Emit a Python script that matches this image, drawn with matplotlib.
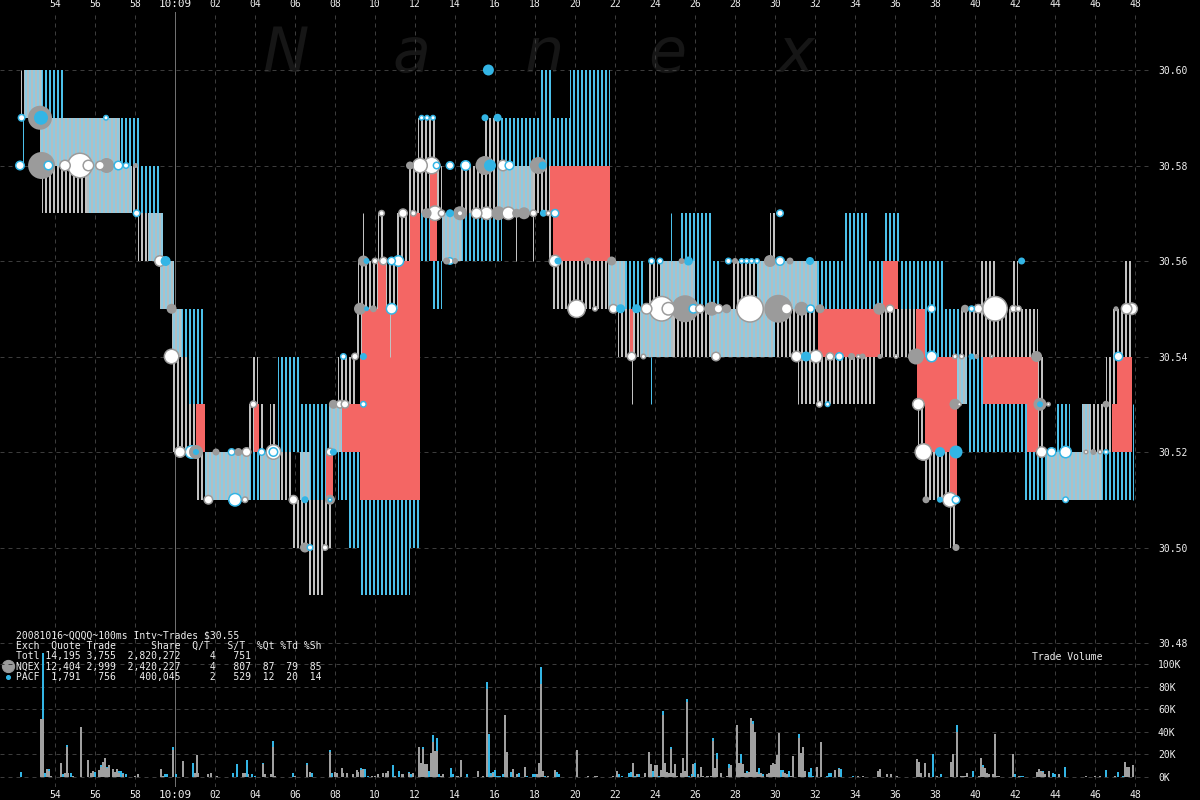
import matplotlib
matplotlib.use('Agg')
import matplotlib.pyplot as plt

plt.rcParams['font.family'] = 'DejaVu Sans Mono'
plt.rcParams['hatch.linewidth'] = 2.0

# time = seconds after 10:08:00, price in $, volume in thousands of shares
tick_secs = list(range(54, 109, 2))
tick_labels = ['54', '56', '58', '10:09'] + ['%02d' % (s - 60) for s in range(62, 109, 2)]
price_ticks = [30.48, 30.50, 30.52, 30.54, 30.56, 30.58, 30.60]
vol_ticks = [0, 20, 40, 60, 80, 100]

# quote bands: (t start, t end, low, high, kind)  g = NQEX only, c = PACF only, l = both
bands = [
    (52.45, 53.33, 30.59, 30.60, 'l'), (53.33, 54.50, 30.59, 30.60, 'c'),
    (53.25, 57.25, 30.58, 30.59, 'l'), (57.25, 58.25, 30.58, 30.59, 'c'),
    (53.33, 55.58, 30.57, 30.58, 'g'), (55.58, 57.83, 30.57, 30.58, 'l'),
    (57.83, 58.17, 30.57, 30.58, 'g'), (58.17, 59.25, 30.57, 30.58, 'c'),
    (58.17, 58.67, 30.56, 30.57, 'g'), (58.67, 59.42, 30.56, 30.57, 'l'),
    (59.25, 59.95, 30.55, 30.56, 'l'), (59.83, 60.33, 30.54, 30.55, 'l'),
    (60.33, 61.42, 30.54, 30.55, 'c'), (59.92, 60.58, 30.52, 30.54, 'g'),
    (60.58, 61.50, 30.53, 30.54, 'c'), (60.58, 61.05, 30.52, 30.53, 'g'),
    (61.05, 61.50, 30.51, 30.52, 'g'), (61.50, 63.75, 30.51, 30.52, 'l'),
    (63.75, 64.25, 30.51, 30.52, 'c'), (64.25, 65.25, 30.51, 30.52, 'l'),
    (65.25, 65.92, 30.51, 30.52, 'g'), (63.83, 64.17, 30.53, 30.54, 'g'),
    (63.60, 63.95, 30.52, 30.53, 'g'), (64.25, 64.42, 30.52, 30.53, 'g'),
    (64.75, 65.00, 30.52, 30.53, 'g'), (65.17, 66.25, 30.52, 30.54, 'c'),
    (65.83, 66.25, 30.50, 30.51, 'g'),
    (66.25, 67.70, 30.52, 30.53, 'c'), (67.70, 68.33, 30.52, 30.53, 'l'),
    (66.25, 66.75, 30.51, 30.52, 'l'), (66.75, 67.55, 30.51, 30.52, 'c'),
    (68.17, 69.25, 30.51, 30.52, 'c'), (66.25, 67.83, 30.50, 30.51, 'g'),
    (68.67, 72.25, 30.50, 30.51, 'c'), (66.67, 67.50, 30.49, 30.50, 'g'),
    (69.25, 71.75, 30.49, 30.50, 'c'), (68.17, 69.08, 30.53, 30.54, 'g'),
    (69.08, 69.33, 30.54, 30.55, 'g'), (69.17, 70.17, 30.55, 30.56, 'g'),
    (70.17, 70.50, 30.56, 30.57, 'g'), (70.55, 71.17, 30.55, 30.56, 'g'),
    (71.08, 71.75, 30.56, 30.57, 'g'), (71.67, 72.75, 30.57, 30.58, 'g'),
    (72.17, 73.08, 30.58, 30.59, 'g'), (72.25, 72.75, 30.56, 30.57, 'c'),
    (72.83, 73.33, 30.55, 30.56, 'c'), (73.08, 73.33, 30.57, 30.58, 'g'),
    (73.33, 74.33, 30.56, 30.57, 'l'), (74.33, 76.33, 30.56, 30.57, 'c'),
    (74.25, 76.25, 30.57, 30.58, 'g'), (75.50, 76.25, 30.58, 30.59, 'g'),
    (76.17, 77.92, 30.57, 30.58, 'l'), (76.25, 78.92, 30.58, 30.59, 'c'),
    (78.25, 78.92, 30.59, 30.60, 'c'), (79.75, 81.75, 30.59, 30.60, 'c'),
    (78.92, 81.75, 30.58, 30.59, 'c'), (77.92, 78.75, 30.57, 30.58, 'g'),
    (78.67, 78.92, 30.56, 30.57, 'g'), (78.92, 81.67, 30.55, 30.56, 'g'),
    (81.67, 82.50, 30.55, 30.56, 'l'), (82.50, 83.42, 30.55, 30.56, 'c'),
    (83.67, 84.17, 30.55, 30.56, 'g'), (84.25, 86.00, 30.55, 30.56, 'l'),
    (86.00, 87.25, 30.55, 30.56, 'c'), (87.92, 89.08, 30.55, 30.56, 'g'),
    (89.08, 92.08, 30.55, 30.56, 'l'), (92.08, 95.42, 30.55, 30.56, 'c'),
    (82.17, 82.75, 30.54, 30.55, 'g'), (82.92, 83.25, 30.54, 30.55, 'g'),
    (83.25, 84.92, 30.54, 30.55, 'l'), (84.92, 86.75, 30.54, 30.55, 'g'),
    (86.75, 90.00, 30.54, 30.55, 'l'), (90.00, 91.17, 30.54, 30.55, 'g'),
    (91.17, 92.08, 30.53, 30.55, 'g'), (92.08, 95.08, 30.53, 30.54, 'g'),
    (95.25, 96.25, 30.54, 30.55, 'g'), (85.25, 86.83, 30.56, 30.57, 'c'),
    (89.75, 90.08, 30.56, 30.57, 'g'), (93.50, 94.67, 30.56, 30.57, 'c'),
    (95.50, 96.25, 30.56, 30.57, 'c'),
    (96.25, 98.50, 30.55, 30.56, 'c'), (100.25, 101.08, 30.55, 30.56, 'g'),
    (101.83, 102.17, 30.55, 30.56, 'g'), (107.42, 107.92, 30.55, 30.56, 'g'),
    (96.25, 97.05, 30.54, 30.55, 'g'), (97.50, 99.25, 30.54, 30.55, 'c'),
    (99.25, 103.17, 30.54, 30.55, 'g'), (106.92, 107.92, 30.54, 30.55, 'g'),
    (99.08, 99.58, 30.53, 30.54, 'l'), (99.58, 100.42, 30.53, 30.54, 'c'),
    (103.17, 103.50, 30.52, 30.54, 'g'), (106.55, 107.08, 30.53, 30.54, 'g'),
    (97.17, 97.50, 30.52, 30.53, 'g'), (99.58, 102.58, 30.52, 30.53, 'c'),
    (104.08, 104.75, 30.52, 30.53, 'c'), (105.33, 105.75, 30.52, 30.53, 'l'),
    (105.75, 106.83, 30.52, 30.53, 'g'), (97.42, 98.75, 30.51, 30.52, 'g'),
    (102.50, 103.58, 30.51, 30.52, 'c'), (103.58, 106.33, 30.51, 30.52, 'l'),
    (106.33, 107.92, 30.51, 30.52, 'c'), (98.75, 99.12, 30.50, 30.51, 'g'),
]

# crossed / locked quote blocks (red)
red_blocks = [
    (61.05, 61.50, 30.52, 30.53), (63.95, 64.22, 30.52, 30.53),
    (67.55, 67.88, 30.51, 30.52), (68.33, 69.25, 30.52, 30.53),
    (69.25, 70.17, 30.51, 30.55), (70.17, 70.55, 30.51, 30.56),
    (70.55, 71.17, 30.51, 30.55), (71.17, 71.75, 30.51, 30.56),
    (71.75, 72.25, 30.51, 30.57), (72.75, 73.08, 30.56, 30.58),
    (78.75, 81.75, 30.56, 30.58), (82.75, 82.92, 30.54, 30.55),
    (92.17, 95.25, 30.54, 30.55), (95.42, 96.17, 30.55, 30.56),
    (97.05, 97.50, 30.54, 30.55), (97.08, 99.08, 30.53, 30.54),
    (97.50, 99.08, 30.52, 30.53), (98.75, 99.12, 30.51, 30.52),
    (100.42, 103.17, 30.53, 30.54), (102.58, 103.42, 30.52, 30.53),
    (107.08, 107.83, 30.53, 30.54), (106.83, 107.83, 30.52, 30.53),
]

# single-interval quote lines: (t, low, high, kind)
spikes = [
    (52.30, 30.59, 30.60, 'g'), (52.40, 30.58, 30.59, 'c'),
    (69.38, 30.56, 30.57, 'g'), (70.75, 30.54, 30.56, 'g'),
    (77.05, 30.56, 30.57, 'g'), (77.88, 30.56, 30.57, 'g'),
    (82.83, 30.53, 30.54, 'g'), (83.80, 30.53, 30.54, 'c'),
    (84.80, 30.56, 30.57, 'c'), (91.17, 30.53, 30.54, 'g'),
    (107.92, 30.51, 30.53, 'c'),
]

# trades: (t, price, marker diameter px, style)
trades = [
    (52.33, 30.59, 8, 'wc'), (53.25, 30.59, 24, 'g'), (53.30, 30.59, 14, 'c'),
    (56.55, 30.59, 6, 'wc'), (52.25, 30.58, 10, 'wc'), (53.33, 30.58, 27, 'g'),
    (53.67, 30.58, 10, 'wc'), (54.50, 30.58, 12, 'w'), (55.25, 30.58, 26, 'w'),
    (55.67, 30.58, 12, 'w'), (56.25, 30.58, 10, 'w'), (56.58, 30.58, 15, 'g'),
    (57.17, 30.58, 10, 'wc'), (57.55, 30.58, 7, 'wc'), (58.03, 30.58, 5, 'g'),
    (58.08, 30.57, 8, 'wc'), (59.25, 30.56, 12, 'w'), (59.53, 30.56, 10, 'c'),
    (59.83, 30.55, 10, 'g'), (59.83, 30.54, 16, 'w'), (60.25, 30.52, 12, 'w'),
    (60.83, 30.52, 14, 'wc'), (61.05, 30.52, 14, 'g'), (61.05, 30.52, 6, 'c'),
    (62.05, 30.52, 7, 'g'), (62.83, 30.52, 8, 'wc'), (63.17, 30.52, 8, 'g'),
    (63.58, 30.52, 10, 'w'), (63.92, 30.53, 8, 'w'), (64.33, 30.52, 8, 'wc'),
    (64.92, 30.52, 16, 'w'), (64.92, 30.52, 10, 'wc'), (61.67, 30.51, 10, 'w'),
    (63.00, 30.51, 14, 'wc'), (63.50, 30.51, 7, 'w'), (65.92, 30.51, 10, 'w'),
    (75.67, 30.60, 11, 'c'), (72.33, 30.59, 6, 'wc'), (72.60, 30.59, 6, 'wc'),
    (72.90, 30.59, 6, 'wc'), (75.50, 30.59, 7, 'c'), (76.13, 30.59, 8, 'c'),
    (71.75, 30.58, 8, 'g'), (72.25, 30.58, 16, 'w'), (72.83, 30.58, 18, 'w'),
    (73.08, 30.58, 8, 'wc'), (73.75, 30.58, 9, 'wc'), (74.53, 30.58, 11, 'wc'),
    (75.50, 30.58, 19, 'g'), (75.75, 30.58, 12, 'c'), (76.40, 30.58, 12, 'w'),
    (76.72, 30.58, 10, 'wc'), (78.17, 30.58, 17, 'g'), (78.38, 30.58, 8, 'c'),
    (70.33, 30.57, 7, 'w'), (71.40, 30.57, 10, 'w'), (71.92, 30.57, 7, 'w'),
    (72.58, 30.57, 10, 'g'), (73.00, 30.57, 16, 'w'), (73.33, 30.57, 8, 'w'),
    (73.75, 30.57, 8, 'c'), (74.25, 30.57, 14, 'g'), (74.25, 30.57, 7, 'w'),
    (75.08, 30.57, 12, 'w'), (75.58, 30.57, 14, 'w'), (76.17, 30.57, 14, 'g'),
    (76.67, 30.57, 14, 'w'), (77.08, 30.57, 9, 'g'), (77.45, 30.57, 12, 'g'),
    (77.92, 30.57, 8, 'w'), (78.42, 30.57, 7, 'c'), (78.67, 30.57, 6, 'w'),
    (79.00, 30.57, 9, 'wc'), (69.42, 30.56, 11, 'g'), (69.58, 30.56, 6, 'c'),
    (70.00, 30.56, 7, 'w'), (70.42, 30.56, 9, 'w'), (70.83, 30.56, 9, 'wc'),
    (71.17, 30.56, 12, 'wc'), (73.58, 30.56, 7, 'g'), (73.75, 30.56, 8, 'wc'),
    (74.00, 30.56, 6, 'g'), (79.00, 30.56, 13, 'w'), (79.15, 30.56, 7, 'c'),
    (80.62, 30.56, 7, 'g'), (69.25, 30.55, 12, 'g'), (69.58, 30.55, 5, 'c'),
    (69.92, 30.55, 7, 'g'), (70.83, 30.55, 12, 'wc'), (80.08, 30.55, 19, 'w'),
    (81.00, 30.55, 6, 'w'), (68.42, 30.54, 7, 'wc'), (69.00, 30.54, 8, 'w'),
    (69.42, 30.54, 7, 'c'), (67.92, 30.53, 9, 'g'), (68.25, 30.53, 9, 'w'),
    (68.50, 30.53, 9, 'w'), (69.42, 30.53, 7, 'wc'), (67.75, 30.52, 9, 'w'),
    (67.92, 30.52, 7, 'c'), (66.50, 30.51, 7, 'c'), (67.75, 30.51, 10, 'g'),
    (67.75, 30.51, 5, 'wc'), (66.50, 30.50, 10, 'g'), (66.75, 30.50, 7, 'wc'),
    (67.50, 30.50, 7, 'w'),
    (90.25, 30.57, 8, 'wc'), (81.83, 30.56, 9, 'g'), (83.83, 30.56, 7, 'wc'),
    (84.25, 30.56, 7, 'wc'), (85.33, 30.56, 6, 'g'), (85.67, 30.56, 9, 'c'),
    (87.67, 30.56, 7, 'wc'), (88.00, 30.56, 6, 'g'), (88.33, 30.56, 6, 'wc'),
    (88.58, 30.56, 6, 'wc'), (88.83, 30.56, 6, 'wc'), (89.10, 30.56, 6, 'wc'),
    (89.75, 30.56, 12, 'g'), (90.25, 30.56, 10, 'wc'), (90.75, 30.56, 7, 'g'),
    (91.75, 30.56, 8, 'c'), (81.92, 30.55, 10, 'w'), (82.28, 30.55, 9, 'c'),
    (83.08, 30.55, 9, 'c'), (83.58, 30.55, 12, 'w'), (84.33, 30.55, 26, 'w'),
    (84.67, 30.55, 14, 'w'), (85.50, 30.55, 27, 'g'), (85.92, 30.55, 10, 'wc'),
    (86.25, 30.55, 10, 'w'), (86.83, 30.55, 14, 'g'), (87.17, 30.55, 10, 'w'),
    (87.58, 30.55, 9, 'g'), (88.75, 30.55, 28, 'w'), (90.17, 30.55, 28, 'g'),
    (90.58, 30.55, 12, 'w'), (91.33, 30.55, 14, 'g'), (91.78, 30.55, 9, 'wc'),
    (92.25, 30.55, 9, 'g'), (95.22, 30.55, 12, 'g'), (95.75, 30.55, 9, 'w'),
    (82.83, 30.54, 10, 'w'), (83.42, 30.54, 6, 'w'), (87.05, 30.54, 10, 'w'),
    (91.08, 30.54, 12, 'w'), (91.55, 30.54, 10, 'c'), (92.05, 30.54, 14, 'w'),
    (92.75, 30.54, 9, 'w'), (93.22, 30.54, 9, 'wc'), (93.83, 30.54, 7, 'g'),
    (94.17, 30.54, 5, 'w'), (94.38, 30.54, 6, 'g'), (95.25, 30.54, 5, 'g'),
    (96.05, 30.54, 5, 'w'), (92.22, 30.53, 7, 'w'), (92.63, 30.53, 6, 'wc'),
    (102.33, 30.56, 7, 'c'), (97.83, 30.55, 9, 'wc'), (99.50, 30.55, 8, 'g'),
    (99.83, 30.55, 7, 'wc'), (100.17, 30.55, 10, 'w'), (101.00, 30.55, 26, 'w'),
    (101.92, 30.55, 8, 'w'), (102.17, 30.55, 7, 'w'), (107.05, 30.55, 5, 'g'),
    (107.58, 30.55, 12, 'w'), (107.83, 30.55, 13, 'w'), (97.05, 30.54, 16, 'g'),
    (97.83, 30.54, 12, 'wc'), (99.00, 30.54, 6, 'w'), (99.33, 30.54, 6, 'w'),
    (99.83, 30.54, 6, 'c'), (100.08, 30.54, 5, 'g'), (100.83, 30.54, 4, 'w'),
    (103.08, 30.54, 11, 'g'), (107.17, 30.54, 10, 'wc'), (97.17, 30.53, 13, 'w'),
    (99.00, 30.53, 11, 'g'), (99.22, 30.53, 5, 'w'), (103.25, 30.53, 13, 'g'),
    (103.25, 30.53, 6, 'c'), (103.67, 30.53, 5, 'w'), (106.55, 30.53, 7, 'g'),
    (97.42, 30.52, 18, 'w'), (98.25, 30.52, 10, 'c'), (99.05, 30.52, 13, 'c'),
    (103.33, 30.52, 12, 'w'), (103.83, 30.52, 10, 'wc'), (104.53, 30.52, 13, 'wc'),
    (105.55, 30.52, 5, 'w'), (105.92, 30.52, 6, 'g'), (106.25, 30.52, 5, 'w'),
    (106.55, 30.52, 6, 'wc'), (97.55, 30.51, 7, 'g'), (98.25, 30.51, 6, 'c'),
    (98.75, 30.51, 16, 'w'), (99.05, 30.51, 9, 'wc'), (104.53, 30.51, 7, 'wc'),
    (99.05, 30.50, 7, 'g'),
]

# trade volume per 100ms interval: (t, NQEX K shares, PACF K shares)
volume = [
    (52.28, 0, 4), (53.28, 51, 0), (53.38, 51, 59), (53.50, 0, 3), (53.58, 7, 0),
    (53.68, 5, 2), (53.78, 1, 0), (54.28, 12, 0), (54.38, 0, 2), (54.50, 3, 0),
    (54.58, 26, 2), (54.67, 3, 0), (54.78, 0, 3), (54.88, 1, 0), (55.28, 44, 0),
    (55.67, 15, 0), (55.78, 3, 0), (55.92, 5, 0), (56.00, 0, 4), (56.20, 6, 0),
    (56.28, 9, 1), (56.38, 13, 0), (56.50, 17, 0), (56.58, 8, 1), (56.68, 10, 0),
    (56.92, 7, 0), (57.00, 4, 0), (57.08, 7, 0), (57.22, 3, 2), (57.28, 0, 5),
    (57.42, 2, 1), (57.55, 0, 2), (58.00, 1, 0), (58.17, 2, 0), (59.28, 7, 0),
    (59.42, 1, 0), (59.50, 0, 2), (59.58, 0, 2), (59.92, 24, 2), (60.05, 0, 2),
    (60.38, 14, 0), (60.88, 0, 12), (61.00, 3, 0), (61.08, 19, 0), (61.17, 3, 0),
    (61.67, 2, 0), (61.78, 3, 0), (62.08, 1, 0), (62.88, 0, 3), (63.08, 0, 11),
    (63.38, 3, 0), (63.50, 3, 0), (63.58, 0, 15), (63.67, 2, 0), (63.83, 0, 2),
    (64.00, 0, 1), (64.38, 11, 1), (64.50, 2, 0), (64.78, 2, 0), (64.92, 26, 6),
    (65.00, 1, 0), (65.92, 0, 3), (66.00, 1, 0), (66.58, 10, 2), (66.75, 4, 0),
    (66.83, 0, 3), (67.75, 22, 2), (67.83, 0, 3), (68.00, 4, 0), (68.12, 3, 0),
    (68.33, 8, 0), (68.42, 3, 0), (68.58, 3, 0), (68.92, 2, 0), (69.08, 6, 0),
    (69.17, 4, 0), (69.28, 6, 2), (69.42, 7, 0), (69.52, 0, 7), (69.67, 0, 1),
    (69.83, 1, 0), (70.00, 1, 0), (70.17, 2, 0), (70.42, 3, 0), (70.55, 3, 0),
    (70.67, 5, 0), (70.88, 0, 10), (71.00, 1, 0), (71.20, 0, 5), (71.33, 2, 0),
    (71.42, 2, 0), (71.70, 3, 1), (71.80, 0, 2), (71.88, 3, 0), (72.20, 26, 0),
    (72.28, 12, 0), (72.38, 25, 1), (72.48, 11, 0), (72.58, 11, 0), (72.68, 0, 5),
    (72.78, 21, 0), (72.88, 31, 6), (72.98, 23, 0), (73.08, 23, 11), (73.18, 0, 2),
    (73.28, 1, 0), (73.38, 2, 0), (73.78, 0, 8), (73.88, 0, 2), (74.08, 1, 0),
    (74.17, 1, 0), (74.28, 15, 0), (74.58, 0, 2), (75.17, 5, 0), (75.38, 1, 0),
    (75.58, 78, 6), (75.68, 0, 38), (75.78, 1, 2), (75.88, 3, 1), (75.98, 0, 6),
    (76.08, 0, 1), (76.17, 0, 1), (76.25, 0, 1), (76.38, 0, 2), (76.48, 55, 0),
    (76.58, 22, 0), (76.78, 0, 4), (76.88, 7, 0), (77.08, 2, 0), (77.18, 0, 3),
    (77.48, 9, 0), (77.58, 0, 1), (77.88, 0, 2), (77.98, 0, 2), (78.08, 2, 0),
    (78.20, 12, 0), (78.30, 82, 15), (78.38, 5, 0), (78.50, 0, 1), (78.67, 1, 0),
    (79.00, 6, 0), (79.08, 0, 4), (79.20, 0, 2), (80.08, 24, 0), (80.67, 1, 0),
    (81.00, 1, 0), (81.08, 1, 0), (81.88, 1, 0), (82.08, 5, 0), (82.22, 0, 2),
    (82.33, 0, 1), (82.68, 0, 3), (82.78, 0, 4), (82.88, 12, 0), (83.00, 0, 1),
    (83.08, 2, 0), (83.18, 0, 2), (83.50, 3, 0), (83.68, 22, 0), (83.78, 11, 0),
    (83.88, 0, 5), (83.98, 10, 0), (84.08, 10, 0), (84.18, 0, 1), (84.28, 6, 0),
    (84.38, 55, 3), (84.48, 12, 0), (84.58, 4, 0), (84.70, 3, 0), (84.80, 25, 1),
    (84.90, 3, 0), (85.00, 11, 0), (85.12, 1, 0), (85.28, 3, 0), (85.38, 17, 0),
    (85.48, 5, 0), (85.58, 66, 3), (85.68, 0, 1),
    (85.83, 1, 1), (85.92, 11, 0), (86.00, 0, 12), (86.17, 2, 0), (86.30, 9, 0),
    (86.42, 1, 0), (86.58, 1, 0), (86.67, 1, 0), (86.78, 1, 0), (86.88, 32, 2),
    (86.98, 8, 0), (87.08, 16, 5), (87.28, 3, 0), (87.58, 1, 0), (87.70, 8, 3),
    (87.78, 10, 0), (88.08, 46, 0), (88.18, 12, 0), (88.28, 12, 8), (88.38, 11, 0),
    (88.48, 3, 0), (88.58, 3, 2), (88.68, 4, 0), (88.78, 52, 0), (88.88, 47, 2),
    (88.98, 40, 0), (89.08, 4, 0), (89.18, 2, 6), (89.28, 3, 0), (89.38, 1, 1),
    (89.58, 2, 0), (89.68, 3, 0), (89.78, 10, 0), (89.88, 12, 0), (89.98, 11, 0),
    (90.08, 19, 0), (90.18, 39, 0), (90.28, 0, 6), (90.38, 4, 2), (90.48, 3, 0),
    (90.58, 2, 0), (90.68, 0, 5), (90.78, 1, 0), (90.88, 18, 0), (91.18, 34, 4),
    (91.28, 21, 0), (91.38, 26, 0), (91.48, 5, 0), (91.68, 0, 4), (91.78, 0, 8),
    (91.88, 0, 1), (92.08, 9, 0), (92.28, 31, 0), (92.58, 0, 1), (92.68, 0, 3),
    (92.78, 0, 3), (92.98, 6, 0), (93.18, 7, 1), (93.28, 0, 7), (93.88, 0, 1),
    (94.17, 1, 0), (94.42, 1, 0), (95.17, 5, 0), (95.27, 7, 0), (95.58, 2, 0),
    (95.78, 2, 0), (96.08, 1, 0), (97.08, 16, 0), (97.18, 13, 0), (97.28, 3, 0),
    (97.48, 12, 0), (97.68, 3, 0), (97.88, 0, 20), (98.08, 1, 0), (98.28, 0, 2),
    (98.78, 13, 0), (98.88, 20, 0), (99.08, 40, 6), (99.28, 1, 0), (99.38, 1, 0),
    (99.48, 1, 0), (99.58, 3, 0), (99.88, 0, 5), (100.18, 1, 0), (100.28, 17, 0),
    (100.38, 9, 1), (100.48, 8, 0), (100.58, 3, 0), (100.68, 2, 0), (100.88, 2, 0),
    (100.98, 38, 0), (101.08, 1, 0), (101.18, 1, 0),
    (101.88, 20, 0), (101.98, 0, 2), (102.22, 1, 0), (102.32, 0, 1), (102.42, 0, 1),
    (103.08, 4, 0), (103.18, 7, 0), (103.28, 5, 0), (103.38, 4, 1), (103.48, 2, 0),
    (103.68, 5, 0), (103.88, 0, 3), (103.98, 0, 2), (104.18, 2, 0), (104.52, 0, 9),
    (105.55, 1, 0), (106.00, 0.5, 0), (106.25, 1, 0), (106.55, 0, 6), (107.00, 0.5, 0),
    (107.17, 0, 4), (107.42, 0, 1), (107.50, 13, 0), (107.60, 9, 0), (107.70, 9, 0),
    (107.90, 10, 0),
]

table_lines = [
    '20081016~QQQQ~100ms Intv~Trades $30.55',
    'Exch  Quote Trade      Share  Q/T   S/T  %Qt %Td %Sh',
    'Totl 14,195 3,755  2,820,272     4   751',
    'NQEX 12,404 2,999  2,420,227     4   807  87  79  85',
    'PACF  1,791   756    400,045     2   529  12  20  14',
]

GRAY = '#9b9b9b'
CYAN = '#33b5e5'
RED = '#f46664'
GRID = '#3c3c3c'
TXT = '#f0f0f0'

W, H = 1200, 800
fig = plt.figure(figsize=(W / 72, H / 72), dpi=72, facecolor='black')


def fx(px):
    return px / W


def fy(py):
    return 1 - py / H


pos = [0, fy(787), fx(1150), fy(12) - fy(787)]
ax = fig.add_axes(pos)
ax.set_facecolor('black')
ax.set_xlim(51.25, 108.75)
ax.set_ylim(30.449843, 30.612147)
for s in ax.spines.values():
    s.set_visible(False)

vax = fig.add_axes(pos)
vax.patch.set_visible(False)
vax.set_xlim(51.25, 108.75)
vax.set_ylim(-9.14, 678.5)
for s in vax.spines.values():
    s.set_visible(False)

# grid
for t in tick_secs:
    if t == 60:
        ax.axvline(t, color='#707070', lw=1, zorder=0.6)
    else:
        ax.axvline(t, color=GRID, lw=1, ls=(0, (4, 4)), zorder=0.5)
for p in price_ticks:
    ax.axhline(p, color=GRID, lw=1, ls=(0, (4, 4)), zorder=0.5)
for v in vol_ticks:
    vax.axhline(v, color=GRID, lw=1, ls=(0, (4, 4)), zorder=0.5)

# watermark
for ch, px in zip('Nanex', [262, 392, 525, 648, 778]):
    ax.text(fx(px), fy(72), ch, transform=fig.transFigure, fontsize=62,
            family='DejaVu Sans', style='italic', color='#161616',
            ha='left', va='baseline', zorder=0.2)

# quote bands
band_style = {
    'g': dict(facecolor='black', edgecolor='#c2c2c2'),
    'c': dict(facecolor='black', edgecolor='#4cc0ea'),
    'l': dict(facecolor='#b4bec2', edgecolor='#8ccbe3'),
}
for kind, st in band_style.items():
    sel = [b for b in bands if b[4] == kind]
    ax.bar([b[0] for b in sel], [b[3] - b[2] for b in sel],
           width=[b[1] - b[0] for b in sel], bottom=[b[2] for b in sel],
           align='edge', hatch='|||', linewidth=0, zorder=2, **st)

ax.bar([r[0] for r in red_blocks], [r[3] - r[2] for r in red_blocks],
       width=[r[1] - r[0] for r in red_blocks], bottom=[r[2] for r in red_blocks],
       align='edge', color=RED, linewidth=0, zorder=1.8)

spike_col = {'g': '#c2c2c2', 'c': '#4cc0ea'}
ax.vlines([s[0] for s in spikes], [s[1] for s in spikes], [s[2] for s in spikes],
          colors=[spike_col[s[3]] for s in spikes], lw=1, zorder=2.2)

# trades
mstyle = {
    'g': (GRAY, 'none', 0),
    'w': ('white', GRAY, 1.5),
    'c': (CYAN, 'none', 0),
    'wc': ('white', CYAN, 1.5),
}
ordered = sorted(trades, key=lambda r: -r[2])
ax.scatter([r[0] for r in ordered], [r[1] for r in ordered],
           s=[(r[2] - mstyle[r[3]][2]) ** 2 for r in ordered],
           facecolors=[mstyle[r[3]][0] for r in ordered],
           edgecolors=[mstyle[r[3]][1] for r in ordered],
           linewidths=[mstyle[r[3]][2] for r in ordered], zorder=4)

# volume
vt = [v[0] for v in volume]
vn = [v[1] for v in volume]
vp = [v[2] for v in volume]
vax.bar(vt, vn, width=0.1, color='#a0a0a0', linewidth=0, zorder=2)
vax.bar(vt, vp, width=0.1, bottom=vn, color=CYAN, linewidth=0, zorder=2)

# ticks
ax.set_xticks(tick_secs, tick_labels)
ax.tick_params(axis='x', length=0, colors=TXT, labelsize=9.7, top=False,
               bottom=False, labeltop=True, labelbottom=True, pad=3)
for tk in ax.xaxis.get_major_ticks():
    if tk.label1.get_text() == '10:09':
        tk.label1.set_fontsize(11)
        tk.label2.set_fontsize(11)
ax.yaxis.tick_right()
ax.set_yticks(price_ticks, ['%.2f' % p for p in price_ticks])
ax.tick_params(axis='y', length=0, colors=TXT, labelsize=9.7, pad=8)

vax.set_xticks([])
vax.yaxis.tick_right()
vax.set_yticks(vol_ticks, ['%dK' % v for v in vol_ticks])
vax.tick_params(axis='y', length=0, colors=TXT, labelsize=9.7, pad=8)

# stats table
for i, line in enumerate(table_lines):
    fig.text(fx(16), fy(635 + 10.5 * i), line, color=TXT, fontsize=9.7,
             ha='left', va='center')
ax.scatter([fx(8)], [fy(666)], s=150, color=GRAY, transform=fig.transFigure,
           clip_on=False, zorder=5)
ax.scatter([fx(8)], [fy(677)], s=16, color=CYAN, transform=fig.transFigure,
           clip_on=False, zorder=5)
fig.text(fx(1032), fy(657), 'Trade Volume', color=TXT, fontsize=9.7,
         ha='left', va='center')

fig.savefig('out.png', dpi=72, facecolor='black')
